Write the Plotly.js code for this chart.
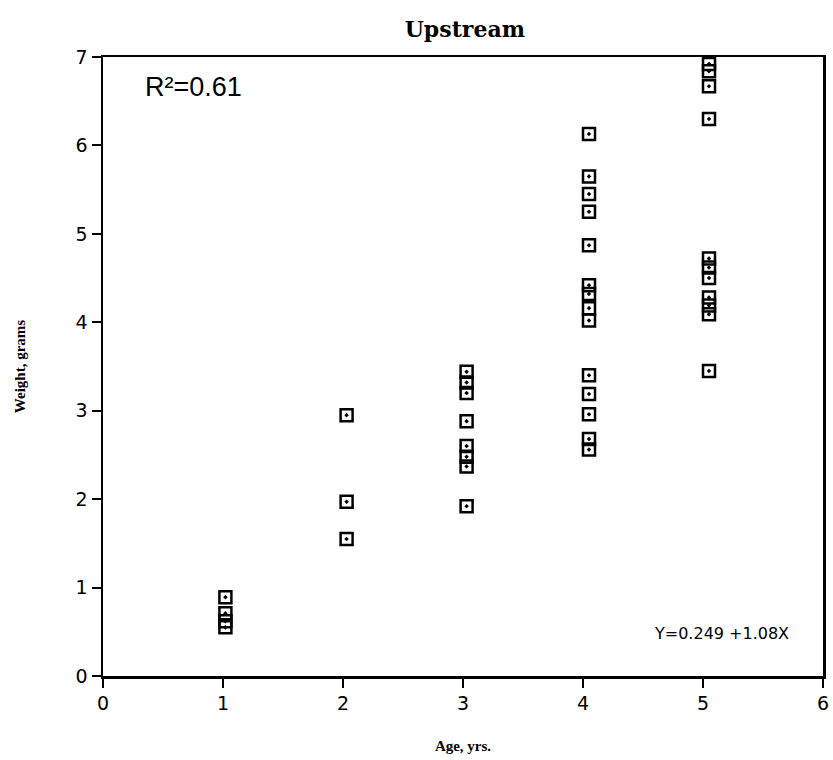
<!DOCTYPE html>
<html>
<head>
<meta charset="utf-8">
<script src="https://cdn.plot.ly/plotly-3.0.1.min.js"></script>
<style>html,body{margin:0;padding:0;background:#fff;}</style>
</head>
<body>
<div id="chart" style="width:833px;height:760px;"></div>
<script>
// Age (yrs) of each fish, as plotted (points sit just right of the integer ticks)
const age1 = [1.02, 1.02, 1.02, 1.02];
const weight1 = [0.89, 0.71, 0.62, 0.55];
const age2 = [2.03, 2.03, 2.03];
const weight2 = [2.95, 1.97, 1.55];
const age3 = [3.03, 3.03, 3.03, 3.03, 3.03, 3.03, 3.03, 3.03];
const weight3 = [3.44, 3.32, 3.20, 2.88, 2.60, 2.48, 2.37, 1.92];
const age4 = [4.05, 4.05, 4.05, 4.05, 4.05, 4.05, 4.05, 4.05, 4.05, 4.05, 4.05, 4.05, 4.05, 4.05];
const weight4 = [6.13, 5.65, 5.45, 5.25, 4.87, 4.42, 4.32, 4.16, 4.02, 3.40, 3.19, 2.96, 2.68, 2.56];
const age5 = [5.05, 5.05, 5.05, 5.05, 5.05, 5.05, 5.05, 5.05, 5.05, 5.05, 5.05];
const weight5 = [6.92, 6.84, 6.67, 6.30, 4.72, 4.62, 4.50, 4.28, 4.19, 4.09, 3.45];

const xTicks = [0, 1, 2, 3, 4, 5, 6];
const yTicks = [0, 1, 2, 3, 4, 5, 6, 7];

const ages = [].concat(age1, age2, age3, age4, age5);
const weights = [].concat(weight1, weight2, weight3, weight4, weight5);

const trace = {
  x: ages,
  y: weights,
  type: 'scatter',
  mode: 'markers',
  marker: {symbol: 'square-open-dot', size: 12, color: '#000', line: {color: '#000', width: 2.5}},
  showlegend: false,
  hoverinfo: 'skip'
};

const tickFont = {family: 'DejaVu Sans, Liberation Sans, sans-serif', size: 19, color: '#000'};
const serifBold = {family: 'Liberation Serif, DejaVu Serif, serif', color: '#000'};

const layout = {
  width: 833,
  height: 760,
  paper_bgcolor: '#fff',
  plot_bgcolor: '#fff',
  margin: {l: 103, r: 10, t: 57, b: 84},
  title: {
    text: '<b>Upstream</b>',
    font: {family: 'DejaVu Serif, Liberation Serif, serif', size: 22, color: '#000'},
    x: 0.558, xanchor: 'center', y: 0.962, yanchor: 'middle'
  },
  xaxis: {
    range: [0, 6],
    tickvals: xTicks,
    ticktext: xTicks.map(String),
    ticks: 'outside', ticklen: 9, tickwidth: 2, tickcolor: '#000',
    showline: true, linecolor: '#000', linewidth: 2.5, mirror: true,
    showgrid: false, zeroline: false,
    tickfont: tickFont,
    title: {text: '<b>Age, yrs.</b>', font: Object.assign({size: 15}, serifBold), standoff: 27}
  },
  yaxis: {
    range: [0, 7],
    tickvals: yTicks,
    ticktext: yTicks.map(String),
    ticks: 'outside', ticklen: 9, tickwidth: 2, tickcolor: '#000',
    showline: true, linecolor: '#000', linewidth: 2.5, mirror: true,
    showgrid: false, zeroline: false,
    tickfont: tickFont,
    title: {text: '<b>Weight, grams</b>', font: Object.assign({size: 15}, serifBold), standoff: 47}
  },
  annotations: [
    {
      text: 'R²=0.61', xref: 'paper', yref: 'paper',
      x: 0.055, y: 0.952, xanchor: 'left', yanchor: 'middle', showarrow: false,
      font: {family: 'Liberation Sans, Arial, sans-serif', size: 27, color: '#000'}
    },
    {
      text: 'Y=0.249 +1.08X', xref: 'paper', yref: 'paper',
      x: 0.955, y: 0.068, xanchor: 'right', yanchor: 'middle', showarrow: false,
      font: {family: 'DejaVu Sans, Liberation Sans, sans-serif', size: 16, color: '#000'}
    }
  ]
};

Plotly.newPlot('chart', [trace], layout, {displayModeBar: false, staticPlot: true});
</script>
</body>
</html>
